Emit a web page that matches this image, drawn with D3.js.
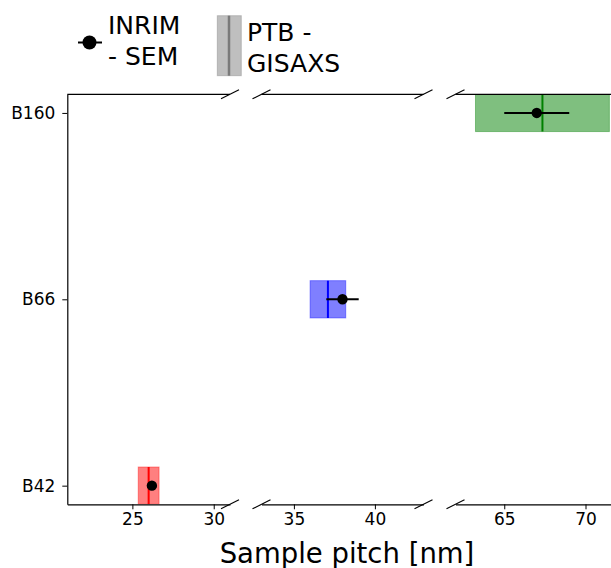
<meta charset="utf-8">
<style>
  body { margin: 0; background: #fff; }
  svg text { font-family: "DejaVu Sans", sans-serif; fill: #000; }
</style>
<svg width="611" height="568"></svg>
<script src="https://cdn.jsdelivr.net/npm/d3@7"></script>
<script>
// samples on the y axis
var samples = ["B42", "B66", "B160"];
// PTB - GISAXS : centre and half width of the band
var ptbValues = [26.0, 37.1, 67.35];
var ptbUncert = [0.64, 1.1, 4.12];
// INRIM - SEM : point and error bar
var inrimValues = [26.2, 38.0, 67.0];
var inrimUncert = [0.2, 1.0, 2.0];
var sampleColors = ["red", "blue", "green"];
// broken x axis: one domain and tick list per panel
var panelDomains = [[21, 31], [33, 43], [62, 72]];
var panelTicks = [[25, 30], [35, 40], [65, 70]];

var svg = d3.select("svg");
var panelRanges = [[67.3, 230], [261.5, 423.5], [455.5, 618]];
var plotTop = 94.3, plotBottom = 504.3;

var y = d3.scaleLinear().domain([-0.1, 2.1]).range([plotBottom, plotTop]);

var rows = samples.map(function(s, i) {
  return { name: s, i: i, ptb: ptbValues[i], ptbU: ptbUncert[i],
           inrim: inrimValues[i], inrimU: inrimUncert[i], color: sampleColors[i] };
});

var defs = svg.append("defs");

panelDomains.forEach(function(dom, p) {
  var x = d3.scaleLinear().domain(dom).range(panelRanges[p]);
  var g = svg.append("g");

  defs.append("clipPath").attr("id", "clip" + p)
    .append("rect")
      .attr("x", x.range()[0]).attr("y", plotTop)
      .attr("width", x.range()[1] - x.range()[0]).attr("height", plotBottom - plotTop);

  var inside = rows.filter(function(d) { return d.ptb >= dom[0] && d.ptb <= dom[1]; });
  var marks = g.append("g").attr("clip-path", "url(#clip" + p + ")");

  // PTB bands
  marks.selectAll("rect.band").data(inside).enter().append("rect")
    .attr("class", "band")
    .attr("x", function(d) { return x(d.ptb - d.ptbU); })
    .attr("width", function(d) { return x(d.ptb + d.ptbU) - x(d.ptb - d.ptbU); })
    .attr("y", function(d) { return y(d.i + 0.1); })
    .attr("height", function(d) { return y(d.i - 0.1) - y(d.i + 0.1); })
    .attr("fill", function(d) { return d.color; })
    .attr("fill-opacity", 0.5)
    .attr("stroke", function(d) { return d.color; })
    .attr("stroke-opacity", 0.4)
    .attr("stroke-width", 1);

  marks.selectAll("line.centre").data(inside).enter().append("line")
    .attr("x1", function(d) { return x(d.ptb); })
    .attr("x2", function(d) { return x(d.ptb); })
    .attr("y1", function(d) { return y(d.i + 0.1); })
    .attr("y2", function(d) { return y(d.i - 0.1); })
    .attr("stroke", function(d) { return d.color; })
    .attr("stroke-width", 2);

  // INRIM points with error bars
  marks.selectAll("line.err").data(inside).enter().append("line")
    .attr("x1", function(d) { return x(d.inrim - d.inrimU); })
    .attr("x2", function(d) { return x(d.inrim + d.inrimU); })
    .attr("y1", function(d) { return y(d.i); })
    .attr("y2", function(d) { return y(d.i); })
    .attr("stroke", "#000")
    .attr("stroke-width", 2);

  marks.selectAll("circle").data(inside).enter().append("circle")
    .attr("cx", function(d) { return x(d.inrim); })
    .attr("cy", function(d) { return y(d.i); })
    .attr("r", 5.2)
    .attr("fill", "#000");

  // bottom axis
  var ax = g.append("g")
    .attr("transform", "translate(0," + plotBottom + ")")
    .call(d3.axisBottom(x).tickValues(panelTicks[p]).tickSize(5).tickPadding(4).tickSizeOuter(0));
  ax.attr("font-size", 17).attr("font-family", "DejaVu Sans");
  ax.select(".domain").attr("stroke-width", 1.2);

  // top spine
  g.append("line")
    .attr("x1", x.range()[0]).attr("x2", x.range()[1])
    .attr("y1", plotTop).attr("y2", plotTop)
    .attr("stroke", "#000").attr("stroke-width", 1.2);

  // break marks
  var ends = [];
  if (p > 0) ends.push(x.range()[0]);
  if (p < panelDomains.length - 1) ends.push(x.range()[1]);
  ends.forEach(function(ex) {
    [plotTop, plotBottom].forEach(function(ey) {
      g.append("line")
        .attr("x1", ex - 9).attr("y1", ey + 4.5)
        .attr("x2", ex + 9).attr("y2", ey - 4.5)
        .attr("stroke", "#000").attr("stroke-width", 1.2);
    });
  });

  if (p === 0) {
    var ay = g.append("g")
      .attr("transform", "translate(" + x.range()[0] + ",0)")
      .call(d3.axisLeft(y).tickValues(rows.map(function(d) { return d.i; }))
        .tickFormat(function(v) { return samples[v]; })
        .tickSize(5).tickPadding(7).tickSizeOuter(0));
    ay.attr("font-size", 17).attr("font-family", "DejaVu Sans");
    ay.select(".domain").attr("stroke-width", 1.2);
  }
});

// x label
svg.append("text")
  .attr("x", 347).attr("y", 562.5)
  .attr("text-anchor", "middle")
  .attr("font-size", "27.5px")
  .text("Sample pitch [nm]");

// legend
var leg = svg.append("g");
leg.append("line").attr("x1", 78).attr("x2", 102).attr("y1", 42.5).attr("y2", 42.5)
  .attr("stroke", "#000").attr("stroke-width", 2);
leg.append("circle").attr("cx", 89.5).attr("cy", 42.5).attr("r", 7).attr("fill", "#000");
leg.append("text").attr("x", 108).attr("y", 34).attr("font-size", "25px").text("INRIM");
leg.append("text").attr("x", 108).attr("y", 64.5).attr("font-size", "25px").text("- SEM");

leg.append("rect").attr("x", 217.3).attr("y", 15.7).attr("width", 24).attr("height", 60)
  .attr("fill", "gray").attr("fill-opacity", 0.5)
  .attr("stroke", "gray").attr("stroke-opacity", 0.4);
leg.append("line").attr("x1", 229).attr("x2", 229).attr("y1", 15.7).attr("y2", 75.7)
  .attr("stroke", "#7a7a7a").attr("stroke-width", 2.5);
leg.append("text").attr("x", 247).attr("y", 41).attr("font-size", "25px").text("PTB -");
leg.append("text").attr("x", 247).attr("y", 71.5).attr("font-size", "25px").text("GISAXS");
</script>
